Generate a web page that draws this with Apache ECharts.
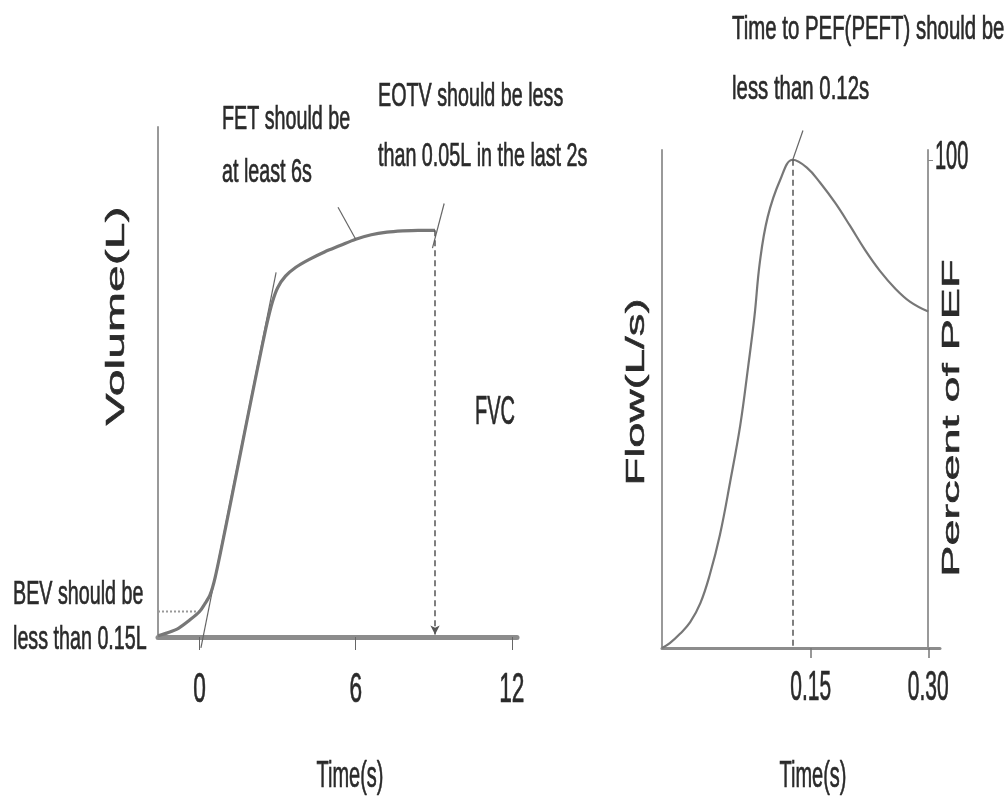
<!DOCTYPE html>
<html>
<head>
<meta charset="utf-8">
<script src="https://cdn.jsdelivr.net/npm/echarts@6/dist/echarts.min.js"></script>
<style>
  html, body { margin: 0; padding: 0; background: #fff; }
  #chart { width: 1007px; height: 803px; }
</style>
</head>
<body>
<div id="chart"></div>
<script>
// Volume–time spirogram (seconds, litres)
const volumeTime   = [-1.6, -1.2, -0.8, -0.4, 0.0, 0.2, 0.4, 0.6, 1.0, 1.5, 2.0, 2.4, 2.6, 2.8, 3.0, 3.3, 3.7, 4.2, 4.8, 5.4, 6.0, 6.6, 7.2, 7.8, 8.4, 9.05];
const volumeValues = [0.01, 0.035, 0.07, 0.13, 0.2, 0.26, 0.33, 0.47, 0.86, 1.37, 1.88, 2.28, 2.47, 2.63, 2.74, 2.83, 2.90, 2.96, 3.02, 3.07, 3.12, 3.155, 3.175, 3.185, 3.19, 3.19];

// Flow–time curve (seconds, percent of PEF)
const flowTime    = [-0.04, -0.03, -0.017, -0.004, 0.009, 0.021, 0.034, 0.047, 0.06, 0.07, 0.078, 0.085, 0.095, 0.111, 0.127, 0.145, 0.162, 0.181, 0.2, 0.219, 0.238, 0.258, 0.277, 0.30];
const flowPercent = [0, 1.0, 2.9, 5.3, 9.2, 15.0, 23.2, 34.0, 45.7, 57.6, 67.8, 79.1, 88.3, 95.9, 100, 98.4, 95.3, 91.2, 86.5, 81.6, 77.3, 73.6, 70.9, 68.9];

// Tick labels
const volumeTimeTicks = [0, 6, 12];
const flowTimeTicks   = [0.15, 0.30];
const percentTicks    = [100];

// Quality criteria markers
const bevLevel        = 0.2;                       // volume at time zero (L)
const backExtrap      = [[0.05, -0.086], [2.94, 2.86]];
const fetTime         = 6;
const fetVolume       = 3.12;
const eotvTime        = 9.05;
const eotvVolume      = 3.19;
const fetPointer      = [[5.32, 3.37], [6.0, 3.12]];
const eotvPointer     = [[9.4, 3.40], [8.95, 3.05]];
const peftTime        = 0.127;
const peftPointer     = [[0.140, 106], [0.127, 100]];

// Text
const bevText   = ['BEV should be', 'less than 0.15L'];
const fetText   = ['FET should be', 'at least 6s'];
const eotvText  = ['EOTV should be less', 'than 0.05L in the last 2s'];
const peftText  = ['Time to PEF(PEFT) should be', 'less than 0.12s'];
const fvcText   = 'FVC';
const timeName  = 'Time(s)';
const volName   = 'Volume(L)';
const flowName  = 'Flow(L/s)';
const pctName   = 'Percent of PEF';

const zip = (xs, ys) => xs.map((x, i) => [x, ys[i]]);

const SANS = '"Liberation Sans", Arial, sans-serif';
const TEXT = '#2a2a2a';
const AXIS = '#8c8c8c';
const CURVE = '#777';

// Condensed horizontal text (narrow glyphs through a horizontal scale)
function hText(text, x, y, opts) {
  opts = opts || {};
  return {
    type: 'text', x: x, y: y, silent: true,
    scaleX: opts.scaleX || 0.58,
    style: {
      text: text, x: 0, y: 0,
      align: opts.align || 'left', verticalAlign: 'middle',
      fontFamily: SANS, fontSize: opts.fontSize || 34, fill: TEXT,
      stroke: TEXT, lineWidth: 0.7
    }
  };
}
// Vertical axis title, stretched along its reading direction
function vText(text, x, y, fontSize, stretch) {
  return {
    type: 'text', x: x, y: y, silent: true,
    rotation: Math.PI / 2, scaleX: stretch,
    style: {
      text: text, x: 0, y: 0, align: 'center', verticalAlign: 'middle',
      fontFamily: SANS, fontSize: fontSize, fill: TEXT,
      stroke: TEXT, lineWidth: 0.5
    }
  };
}

const dashed = { color: '#555', width: 1.5, type: [6, 4] };
const thin = { color: '#666', width: 1.2 };
const yLine = { onZero: false, show: true, lineStyle: { color: '#999', width: 2 } };

const chart = echarts.init(document.getElementById('chart'), null, { renderer: 'canvas' });

chart.setOption({
  animation: false,
  backgroundColor: '#fff',
  grid: [
    { left: 158, top: 127, width: 359, height: 510 },
    { left: 662, top: 150, width: 278, height: 498 }
  ],
  xAxis: [
    {
      type: 'value', gridIndex: 0, min: -1.6, max: 12.2,
      axisLine: { onZero: false, lineStyle: { color: AXIS, width: 5 } },
      axisTick: { customValues: volumeTimeTicks, length: 13, lineStyle: { color: '#666', width: 1 } },
      axisLabel: { show: false },
      splitLine: { show: false }
    },
    {
      type: 'value', gridIndex: 1, min: -0.04, max: 0.315,
      axisLine: { onZero: false, lineStyle: { color: AXIS, width: 3 } },
      axisTick: { customValues: flowTimeTicks, length: 10, lineStyle: { color: '#777', width: 1.5 } },
      axisLabel: { show: false },
      splitLine: { show: false }
    }
  ],
  yAxis: [
    {
      type: 'value', gridIndex: 0, min: 0, max: 4,
      axisLine: yLine,
      axisTick: { show: false }, axisLabel: { show: false }, splitLine: { show: false }
    },
    {
      type: 'value', gridIndex: 1, min: 0, max: 102,
      axisLine: yLine,
      axisTick: { show: false }, axisLabel: { show: false }, splitLine: { show: false }
    },
    {
      type: 'value', gridIndex: 1, position: 'right', offset: -12, min: 0, max: 102,
      axisLine: yLine,
      axisTick: { customValues: percentTicks, length: 5, lineStyle: { color: '#888', width: 1 } },
      axisLabel: { show: false },
      splitLine: { show: false }
    }
  ],
  series: [
    {
      name: 'FVC', type: 'line', xAxisIndex: 0, yAxisIndex: 0,
      data: zip(volumeTime, volumeValues), smooth: 0.3, showSymbol: false,
      lineStyle: { color: CURVE, width: 3.2 }, z: 3,
      markLine: {
        silent: true, symbol: ['none', 'none'], label: { show: false },
        lineStyle: dashed,
        data: [
          [{ coord: [fetTime, fetVolume] }, { coord: [fetTime, -0.1] }],
          [{ coord: [eotvTime, eotvVolume], symbol: 'none' }, { coord: [eotvTime, 0.02], symbol: 'arrow', symbolSize: [7, 9] }]
        ]
      }
    },
    {
      name: 'Back extrapolation', type: 'line', xAxisIndex: 0, yAxisIndex: 0, clip: false,
      data: backExtrap, showSymbol: false, lineStyle: thin, z: 2
    },
    {
      name: 'BEV', type: 'line', xAxisIndex: 0, yAxisIndex: 0,
      data: [[-1.6, bevLevel], [0, bevLevel]], showSymbol: false,
      lineStyle: { color: '#999', width: 2, type: 'dotted' }, z: 2
    },
    {
      name: 'FET pointer', type: 'line', xAxisIndex: 0, yAxisIndex: 0, clip: false,
      data: fetPointer, showSymbol: false, lineStyle: thin
    },
    {
      name: 'EOTV pointer', type: 'line', xAxisIndex: 0, yAxisIndex: 0, clip: false,
      data: eotvPointer, showSymbol: false, lineStyle: thin
    },
    {
      name: 'Flow', type: 'line', xAxisIndex: 1, yAxisIndex: 1,
      data: zip(flowTime, flowPercent), smooth: 0.4, showSymbol: false,
      lineStyle: { color: CURVE, width: 2.2 }, z: 3,
      markLine: {
        silent: true, symbol: ['none', 'none'], label: { show: false },
        lineStyle: dashed,
        data: [[{ coord: [peftTime, 100] }, { coord: [peftTime, 0] }]]
      }
    },
    {
      name: 'PEFT pointer', type: 'line', xAxisIndex: 1, yAxisIndex: 1, clip: false,
      data: peftPointer, showSymbol: false, lineStyle: thin
    }
  ]
});

// Tick labels, placed through the axes' own scales and drawn condensed
const tickLabels = [];
volumeTimeTicks.forEach(v => {
  const x = chart.convertToPixel({ xAxisIndex: 0 }, v);
  tickLabels.push(hText(String(v), x, 690, { align: 'center', fontSize: 42, scaleX: 0.54 }));
});
flowTimeTicks.forEach(v => {
  const x = chart.convertToPixel({ xAxisIndex: 1 }, v);
  tickLabels.push(hText(v.toFixed(2), x, 688, { align: 'center', fontSize: 42, scaleX: 0.5 }));
});
percentTicks.forEach(v => {
  const y = chart.convertToPixel({ yAxisIndex: 2 }, v);
  tickLabels.push(hText(String(v), 935, y - 2, { align: 'left', fontSize: 40, scaleX: 0.5 }));
});

chart.setOption({
  graphic: {
    elements: [
      hText(bevText[0], 13, 595),
      hText(bevText[1], 13, 640),
      hText(fetText[0], 222, 120),
      hText(fetText[1], 222, 173),
      hText(eotvText[0], 378, 97),
      hText(eotvText[1], 378, 157),
      hText(peftText[0], 732, 30, { scaleX: 0.6 }),
      hText(peftText[1], 732, 90, { scaleX: 0.6 }),
      hText(fvcText, 495, 413, { align: 'center', fontSize: 40, scaleX: 0.5 }),
      hText(timeName, 350, 777, { align: 'center', fontSize: 37, scaleX: 0.54 }),
      hText(timeName, 813, 777, { align: 'center', fontSize: 37, scaleX: 0.54 }),
      vText(volName, 117, 316, 26, 1.85),
      vText(flowName, 637, 392, 26, 1.75),
      vText(pctName, 952, 418, 24, 1.95)
    ].concat(tickLabels)
  }
});
</script>
</body>
</html>
